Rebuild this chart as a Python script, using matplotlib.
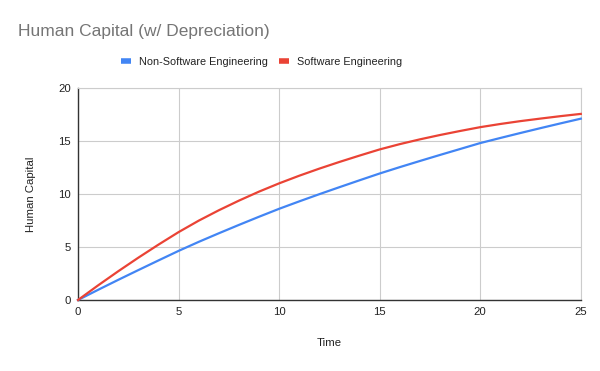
import matplotlib.pyplot as plt
from matplotlib.lines import Line2D

plt.rcParams['font.family'] = ['Liberation Sans', 'DejaVu Sans']

# data
time = list(range(0, 26))
non_software = [0, 0.96, 1.90, 2.82, 3.73, 4.63, 5.48, 6.29, 7.08, 7.85, 8.60,
                9.30, 9.98, 10.64, 11.29, 11.93, 12.53, 13.11, 13.68, 14.24,
                14.80, 15.28, 15.75, 16.21, 16.66, 17.10]
software = [0, 1.38, 2.71, 3.99, 5.22, 6.40, 7.48, 8.46, 9.37, 10.22, 11.0,
            11.72, 12.39, 13.02, 13.62, 14.2, 14.70, 15.15, 15.56, 15.94,
            16.3, 16.60, 16.87, 17.11, 17.34, 17.55]
labels = ['Non-Software Engineering', 'Software Engineering']
colors = ['#4285F4', '#EA4335']

fig = plt.figure(figsize=(6, 3.71), dpi=100)
ax = fig.add_axes([0.13, 0.1914, 0.838, 0.5716])

ax.plot(time, non_software, color=colors[0], lw=1.6, zorder=3, clip_on=False)
ax.plot(time, software, color=colors[1], lw=1.6, zorder=3, clip_on=False)

ax.set_xlim(0, 25)
ax.set_ylim(0, 20)
ax.set_xticks([0, 5, 10, 15, 20, 25])
ax.set_yticks([0, 5, 10, 15, 20])
ax.grid(True, color='#cccccc', lw=0.8)
ax.set_axisbelow(True)
for s in ['top', 'right']:
    ax.spines[s].set_color('#cccccc')
    ax.spines[s].set_linewidth(0.8)
for s in ['bottom', 'left']:
    ax.spines[s].set_color('#333333')
    ax.spines[s].set_linewidth(1.0)
ax.tick_params(length=0, labelsize=8.2, colors='#222222', pad=5)

ax.set_xlabel('Time', fontsize=8.2, color='#222222')
ax.set_ylabel('Human Capital', fontsize=8.2, color='#222222')
ax.xaxis.set_label_coords(0.5, -0.18)
ax.yaxis.set_label_coords(-0.083, 0.5)

fig.text(0.03, 0.916, 'Human Capital (w/ Depreciation)', fontsize=12.5,
         color='#757575', va='center', ha='left')

handles = [Line2D([], [], color=c, lw=4, solid_capstyle='butt') for c in colors]
fig.legend(handles, labels, loc='center', bbox_to_anchor=(0.436, 0.834),
           ncol=2, frameon=False, fontsize=7.8, handlelength=0.9,
           handletextpad=0.7, columnspacing=1.1, labelcolor='#222222')

fig.savefig('out.png', dpi=100)
